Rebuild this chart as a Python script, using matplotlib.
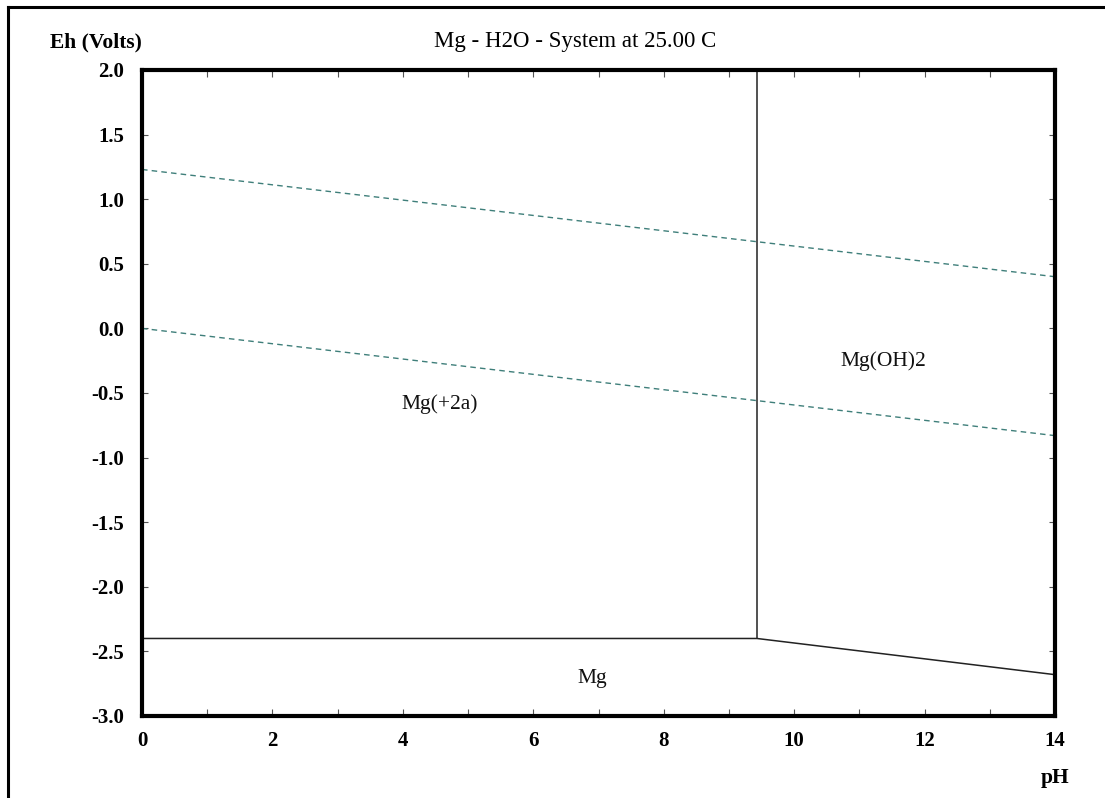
import matplotlib
matplotlib.use("Agg")
import matplotlib.pyplot as plt
from matplotlib.lines import Line2D
import numpy as np

# Data
ph_water = [0, 14]
o2_line = [1.23, 0.40]
h2_line = [0.00, -0.83]
mg_boundary_ph = [0, 9.43, 14]
mg_boundary_eh = [-2.40, -2.40, -2.68]
mgoh_vertical_ph = [9.43, 9.43]
mgoh_vertical_eh = [-2.40, 2.0]
labels = ["Mg(+2a)", "Mg(OH)2", "Mg"]
label_x = [4.57, 11.36, 6.9]
label_y = [-0.585, -0.25, -2.71]
x_ticks = list(range(0, 15))
y_ticks = [-3.0, -2.5, -2.0, -1.5, -1.0, -0.5, 0.0, 0.5, 1.0, 1.5, 2.0]

W, H = 1105, 798
fig = plt.figure(figsize=(W / 100, H / 100), dpi=100)
plt.rcParams['font.family'] = ['Liberation Serif', 'DejaVu Serif']

L, R, T, B = 142, 1055, 70, 716
ax = fig.add_axes([L / W, 1 - B / H, (R - L) / W, (B - T) / H])
ax.set_xlim(0, 14)
ax.set_ylim(-3.0, 2.0)

teal = '#3f7f7a'
ax.plot(ph_water, o2_line, color=teal, lw=1.0, ls=(0, (4, 3)))
ax.plot(ph_water, h2_line, color=teal, lw=1.0, ls=(0, (4, 3)))
ax.plot(mg_boundary_ph, mg_boundary_eh, color='#222222', lw=1.1)
ax.plot(mgoh_vertical_ph, mgoh_vertical_eh, color='#222222', lw=1.1)

for t, x, y in zip(labels, label_x, label_y):
    ax.text(x, y, t, fontsize=15.5, ha='center', va='center', color='#111111')

for s in ax.spines.values():
    s.set_linewidth(3.0)
    s.set_color('black')

ax.set_xticks(x_ticks)
ax.set_xticklabels([str(v) if v % 2 == 0 else '' for v in x_ticks],
                   fontsize=15, fontweight='bold')
ax.set_yticks(y_ticks)
ax.set_yticklabels([f"{v:.1f}" for v in y_ticks], fontsize=15, fontweight='bold')
ax.tick_params(axis='x', direction='in', length=5, width=0.8, top=True, bottom=True,
               pad=11, color='#555555')
ax.tick_params(axis='y', direction='in', length=4, width=0.8, left=True, right=True,
               pad=13, color='#555555')

fig.text(575 / W, 1 - 42 / H, "Mg - H2O - System at 25.00 C", fontsize=16.5,
         ha='center', va='center')
fig.text(96 / W, 1 - 42 / H, "Eh (Volts)", fontsize=15.5, fontweight='bold',
         ha='center', va='center')
fig.text(1055 / W, 1 - 778 / H, "pH", fontsize=15.5, fontweight='bold',
         ha='center', va='center')

# outer frame (top and left edges)
fig.add_artist(Line2D([8 / W, 1], [1 - 7 / H, 1 - 7 / H], color='black', lw=2.2,
                      transform=fig.transFigure))
fig.add_artist(Line2D([8 / W, 8 / W], [0, 1 - 7 / H], color='black', lw=2.2,
                      transform=fig.transFigure))

fig.savefig("out.png", dpi=100)
